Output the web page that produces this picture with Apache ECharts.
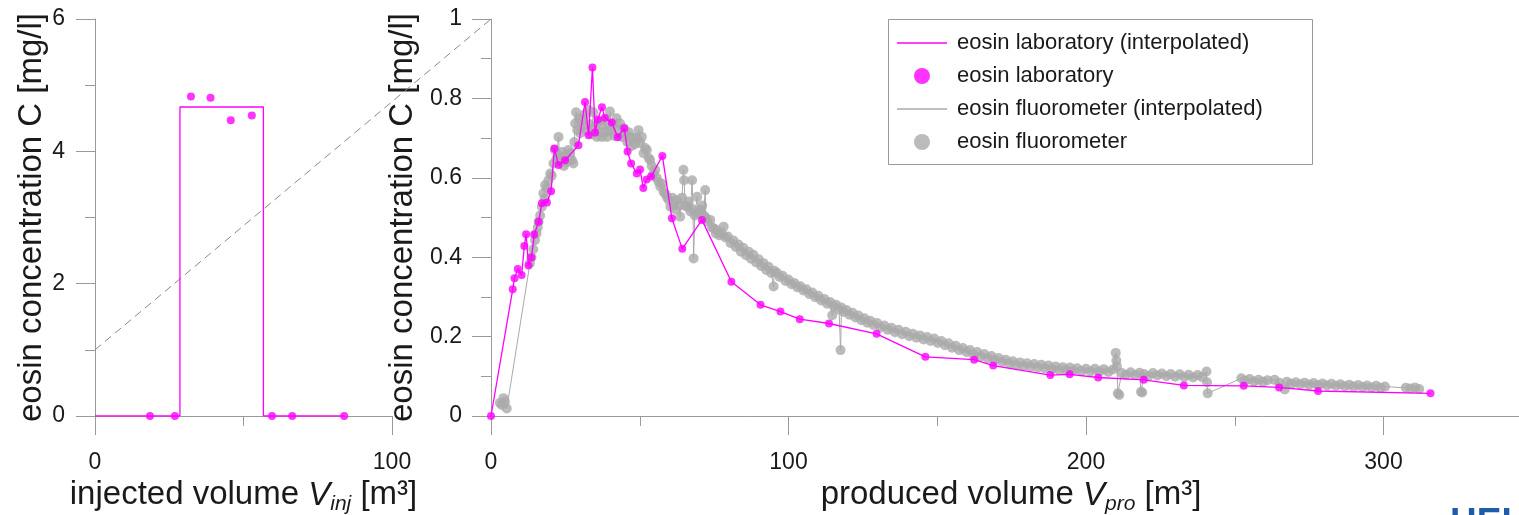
<!DOCTYPE html>
<html>
<head>
<meta charset="utf-8">
<script src="https://cdn.jsdelivr.net/npm/echarts@6/dist/echarts.min.js"></script>
<style>html,body{margin:0;padding:0;background:#fff;}#c{width:1519px;height:515px;}</style>
</head>
<body>
<div id="c"></div>
<script>
// ---------- data ----------
// left panel: injection
const injStepV = [0, 28.6, 28.6, 56.7, 56.7, 84];
const injStepC = [0, 0, 4.67, 4.67, 0, 0];
const injLabV = [18.5, 26.9, 32.3, 38.9, 45.7, 52.8, 59.6, 66.4, 83.9];
const injLabC = [0, 0, 4.83, 4.81, 4.47, 4.54, 0, 0, 0];
// decorative connector (left-panel coordinates, from C=1 at V=0 to top of right axis)
const connectorV = [0, 133.3];
const connectorC = [1, 6];

// right panel: laboratory samples
const labV = [0, 7.3, 7.9, 9.0, 10.3, 11.2, 11.8, 12.6, 13.6, 14.5, 16.0, 17.1, 18.8, 20.2, 21.3, 22.7, 24.9, 29.4, 31.6, 32.8, 34.1, 35.0, 35.9, 37.3, 38.3, 40.6, 42.6, 44.8, 45.9, 47.1, 49.0, 50.1, 51.2, 52.3, 53.8, 57.6, 60.8, 64.3, 70.9, 80.8, 90.6, 97.3, 103.8, 113.6, 129.6, 146.0, 162.4, 168.8, 188.0, 194.5, 204.1, 219.4, 232.9, 253.0, 264.9, 278.0, 315.8];
const labC = [0, 0.319, 0.347, 0.370, 0.355, 0.428, 0.458, 0.379, 0.399, 0.457, 0.489, 0.536, 0.538, 0.566, 0.674, 0.632, 0.644, 0.682, 0.791, 0.707, 0.878, 0.714, 0.747, 0.778, 0.751, 0.739, 0.702, 0.725, 0.666, 0.636, 0.611, 0.621, 0.574, 0.596, 0.603, 0.655, 0.498, 0.421, 0.494, 0.338, 0.280, 0.263, 0.244, 0.233, 0.207, 0.149, 0.142, 0.127, 0.103, 0.105, 0.097, 0.091, 0.077, 0.076, 0.072, 0.063, 0.057];

// right panel: fluorometer readings
const fluoV = [3.0, 3.6, 4.2, 4.7, 5.3,
 13.1, 13.6, 14.2, 14.8, 15.3, 15.7, 16.0, 16.5, 17.1, 17.6, 18.0, 18.2, 18.8, 19.3, 19.9, 20.4, 21.0, 21.5, 22.0, 22.7, 23.0,
 23.5, 24.0, 24.5, 25.0, 25.5, 26.0, 26.6, 27.2, 27.7, 28.0,
 28.3, 28.6, 29.0, 29.5, 30.0, 30.5, 31.0, 31.5, 32.0, 32.8, 33.3, 33.8, 34.4, 35.0, 35.6, 36.2, 36.8, 37.3, 37.8, 38.4, 39.0, 39.5, 40.0, 40.5, 41.0, 41.6, 42.2, 42.8, 43.4, 44.0, 44.6, 45.2, 45.8, 46.3, 46.8, 47.3, 47.8, 48.4, 49.0, 49.6, 50.2, 50.7, 51.3, 51.8, 52.4, 53.0, 53.5, 54.0, 54.6, 55.2, 55.7, 56.3, 56.9, 57.5, 58.0, 58.6, 59.1, 59.7, 60.3, 60.9, 61.5, 62.0, 62.5, 63.1, 63.6, 64.2, 64.7, 64.9, 65.3, 65.9, 66.4, 67.0, 67.6, 67.9, 68.1, 68.5, 69.3, 69.8, 70.4, 71.0, 71.5, 72.0, 72.2, 72.8, 73.7, 74.3, 75.0, 75.6, 76.0, 76.8, 77.5, 78.2, 78.8, 79.6, 80.5, 81.5, 82.3, 83.2, 84.0, 84.8, 85.7, 86.6, 87.4, 88.2, 89.1, 90.0, 90.8, 91.6, 92.5, 93.3, 94.2, 95.0, 95.2,
 96.1, 97.0, 98.0, 99.0, 100.0, 101.0, 102.0, 103.0, 104.0, 105.0, 106.0, 107.0, 108.0, 109.0, 110.0, 111.0, 112.0, 113.0, 114.0, 114.7, 115.3, 116.0, 117.0, 117.5, 117.8, 118.6, 119.5, 120.5, 121.5, 122.5, 123.5, 124.5, 125.5, 126.5, 127.5, 128.6, 129.8, 131.0, 132.2, 133.4, 134.6, 135.8, 137.0, 138.2, 139.4, 140.6, 141.8, 143.0, 144.2, 145.4, 146.6, 147.8, 149.0, 150.2, 151.4, 152.6, 153.8, 155.0, 156.2, 157.4, 158.6, 159.8, 161.0, 162.2, 163.4, 164.6, 165.8, 167.0, 168.2, 169.4, 170.6, 171.8, 173.0, 174.2, 175.4, 176.6, 177.8, 179.0, 180.2, 181.4, 182.6, 183.8, 185.0, 186.2, 187.4, 188.6, 189.8, 191.0, 192.2, 193.4, 194.6, 195.8, 197.0, 198.5, 200.0, 201.5, 203.0, 204.5, 206.0, 207.5, 209.0,
 210.0, 210.2, 210.4, 210.7, 211.2, 212.0, 213.5, 215.0, 216.5, 218.0, 218.5, 218.9, 219.5, 221.0, 222.5, 224.0, 225.5, 227.0, 228.5, 230.0, 231.5, 233.0, 234.5, 236.0, 237.5, 239.0, 240.5, 240.7, 240.9,
 252.2, 253.5, 255.0, 256.5, 258.0, 259.5, 261.0, 263.4, 265.0, 266.8, 267.5, 269.0, 270.5, 272.0, 273.5, 275.0, 276.5, 278.0, 279.5, 281.0, 282.5, 284.0, 285.5, 287.0, 288.5, 290.0, 291.5, 293.0, 294.5, 296.0, 297.5, 299.0, 300.5,
 307.5, 309.0, 310.6, 312.0];
const fluoC = [0.033, 0.028, 0.045, 0.036, 0.019,
 0.385, 0.400, 0.420, 0.443, 0.460, 0.475, 0.489, 0.505, 0.527, 0.561, 0.548, 0.582, 0.575, 0.594, 0.611, 0.605, 0.636, 0.670, 0.648, 0.703, 0.655,
 0.640, 0.665, 0.630, 0.655, 0.640, 0.670, 0.662, 0.645, 0.636, 0.690,
 0.737, 0.765, 0.720, 0.750, 0.712, 0.745, 0.730, 0.760, 0.720, 0.771, 0.735, 0.710, 0.765, 0.730, 0.703, 0.740, 0.715, 0.703, 0.729, 0.745, 0.703, 0.720, 0.767, 0.716, 0.735, 0.705, 0.750, 0.720, 0.737, 0.703, 0.725, 0.710, 0.690, 0.715, 0.703, 0.680, 0.700, 0.685, 0.700, 0.720, 0.687, 0.703, 0.662, 0.675, 0.670, 0.650, 0.645, 0.630, 0.611, 0.620, 0.600, 0.590, 0.578, 0.585, 0.565, 0.560, 0.552, 0.545, 0.527, 0.550, 0.535, 0.520, 0.544, 0.530, 0.502, 0.550, 0.620, 0.594, 0.530, 0.527, 0.540, 0.515, 0.594, 0.520, 0.397, 0.505, 0.552, 0.510, 0.519, 0.530, 0.505, 0.569, 0.500, 0.490, 0.494, 0.475, 0.472, 0.460, 0.468, 0.455, 0.460, 0.477, 0.450, 0.452, 0.436, 0.442, 0.426, 0.432, 0.414, 0.424, 0.405, 0.414, 0.396, 0.406, 0.387, 0.395, 0.378, 0.385, 0.368, 0.376, 0.360, 0.326, 0.366,
 0.361, 0.350, 0.353, 0.340, 0.344, 0.332, 0.335, 0.324, 0.327, 0.316, 0.319, 0.307, 0.311, 0.299, 0.303, 0.291, 0.295, 0.283, 0.287, 0.254, 0.276, 0.280, 0.268, 0.166, 0.273, 0.262, 0.267, 0.255, 0.260, 0.248, 0.253, 0.241, 0.246, 0.235, 0.240, 0.229, 0.234, 0.223, 0.228, 0.217, 0.222, 0.211, 0.217, 0.206, 0.212, 0.201, 0.207, 0.197, 0.203, 0.193, 0.199, 0.189, 0.195, 0.184, 0.189, 0.178, 0.183, 0.172, 0.177, 0.166, 0.171, 0.161, 0.166, 0.155, 0.161, 0.150, 0.156, 0.145, 0.151, 0.141, 0.146, 0.136, 0.142, 0.132, 0.138, 0.128, 0.135, 0.126, 0.133, 0.124, 0.131, 0.122, 0.129, 0.120, 0.127, 0.118, 0.125, 0.116, 0.123, 0.115, 0.122, 0.114, 0.120, 0.113, 0.119, 0.112, 0.119, 0.112, 0.118, 0.111, 0.117,
 0.159, 0.140, 0.125, 0.057, 0.053, 0.108, 0.104, 0.110, 0.103, 0.109, 0.061, 0.059, 0.106, 0.101, 0.108, 0.102, 0.107, 0.100, 0.106, 0.099, 0.105, 0.098, 0.104, 0.097, 0.103, 0.098, 0.112, 0.085, 0.057,
 0.095, 0.089, 0.093, 0.087, 0.091, 0.086, 0.090, 0.091, 0.084, 0.067, 0.086, 0.081, 0.085, 0.080, 0.084, 0.079, 0.083, 0.078, 0.082, 0.077, 0.081, 0.076, 0.080, 0.075, 0.079, 0.074, 0.078, 0.073, 0.077, 0.072, 0.076, 0.071, 0.074,
 0.071, 0.069, 0.072, 0.068];

// axis ticks
const injTicks = {xMin: 0, xMax: 100, xStep: 100, yMin: 0, yMax: 6, yStep: 2};
const proTicks = {xMin: 0, xMax: 400, xStep: 100, yMin: 0, yMax: 1, yStep: 0.2};
const legendNames = ['eosin laboratory (interpolated)', 'eosin laboratory', 'eosin fluorometer (interpolated)', 'eosin fluorometer'];

// ---------- chart ----------
const FONT = '"Liberation Sans", Arial, Helvetica, sans-serif';
const AX = '#9a9a9a';
const TXT = '#1a1a1a';
const MAG = '#ff00ff';
const GRY = '#aaaaaa';
const zip = (a, b) => a.map((v, i) => [v, b[i]]);
const LINE_ICON = 'path://M0,0L50,0L50,1.5L0,1.5Z';

const axisCommon = {
  axisLine: {show: true, onZero: false, lineStyle: {color: AX, width: 1}},
  axisTick: {show: true, inside: false, length: 19, lineStyle: {color: AX, width: 1}},
  minorTick: {show: true, splitNumber: 2, length: 10, lineStyle: {color: AX, width: 1}},
  splitLine: {show: false},
  minorSplitLine: {show: false}
};
const labelStyle = {fontSize: 23, color: TXT, fontFamily: FONT};
const nameRich = {
  a: {fontSize: 33, fontFamily: FONT, color: TXT, lineHeight: 38},
  v: {fontSize: 33, fontFamily: FONT, color: TXT, fontStyle: 'italic', lineHeight: 38},
  s: {fontSize: 21, fontFamily: FONT, color: TXT, fontStyle: 'italic', lineHeight: 22, verticalAlign: 'bottom'}
};
const hidden = {show: false};

const chart = echarts.init(document.getElementById('c'), null, {renderer: 'canvas', width: 1519, height: 515});
chart.setOption({
  backgroundColor: '#ffffff',
  animation: false,
  grid: [
    {left: 95, top: 19, width: 297, height: 397, outerBoundsMode: 'none', containLabel: false},
    {left: 491, top: 19, width: 1190, height: 397, outerBoundsMode: 'none', containLabel: false},
    {left: 95, top: 19, width: 396, height: 397, outerBoundsMode: 'none', containLabel: false}
  ],
  xAxis: [
    Object.assign({}, axisCommon, {
      gridIndex: 0, type: 'value', min: injTicks.xMin, max: injTicks.xMax, interval: injTicks.xStep,
      axisLabel: Object.assign({margin: 35}, labelStyle),
      name: '{a|injected volume }{v|V}{s|inj}{a| [m³]}', nameLocation: 'middle', nameGap: 48,
      nameTextStyle: {rich: nameRich}
    }),
    Object.assign({}, axisCommon, {
      gridIndex: 1, type: 'value', min: proTicks.xMin, max: proTicks.xMax, interval: proTicks.xStep,
      axisLabel: Object.assign({margin: 35, showMaxLabel: false}, labelStyle),
      name: '{a|produced volume }{v|V}{s|pro}{a| [m³]}', nameLocation: 'middle', nameGap: 48,
      nameTextStyle: {rich: nameRich, padding: [0, 150, 0, 0]}
    }),
    {gridIndex: 2, type: 'value', min: 0, max: 133.3, show: false, axisLine: hidden, axisTick: hidden, axisLabel: hidden, splitLine: hidden}
  ],
  yAxis: [
    Object.assign({}, axisCommon, {
      gridIndex: 0, type: 'value', min: injTicks.yMin, max: injTicks.yMax, interval: injTicks.yStep,
      axisLabel: Object.assign({margin: 30}, labelStyle),
      name: 'eosin concentration C [mg/l]', nameLocation: 'middle', nameGap: 41, nameRotate: 90,
      nameTextStyle: {fontSize: 33, fontFamily: FONT, color: TXT}
    }),
    Object.assign({}, axisCommon, {
      gridIndex: 1, type: 'value', min: proTicks.yMin, max: proTicks.yMax, interval: proTicks.yStep,
      axisLabel: Object.assign({margin: 29}, labelStyle),
      name: 'eosin concentration C [mg/l]', nameLocation: 'middle', nameGap: 59, nameRotate: 90,
      nameTextStyle: {fontSize: 33, fontFamily: FONT, color: TXT}
    }),
    {gridIndex: 2, type: 'value', min: 0, max: 6, show: false, axisLine: hidden, axisTick: hidden, axisLabel: hidden, splitLine: hidden}
  ],
  legend: {
    orient: 'vertical', left: 888, top: 19,
    padding: [13, 10, 12, 9], itemGap: 11, itemWidth: 50, itemHeight: 16,
    textStyle: {fontSize: 22, lineHeight: 22, color: TXT, fontFamily: FONT, padding: [0, 0, 0, 5]},
    data: [
      {name: legendNames[0], icon: LINE_ICON, itemStyle: {color: MAG}},
      {name: legendNames[1], icon: 'circle', itemStyle: {color: MAG}},
      {name: legendNames[2], icon: LINE_ICON, itemStyle: {color: GRY}},
      {name: legendNames[3], icon: 'circle', itemStyle: {color: GRY}}
    ],
    selectedMode: false
  },
  graphic: [
    {type: 'rect', left: 888, top: 19, z: 0, silent: true,
     shape: {width: 424, height: 145}, style: {fill: '#ffffff', stroke: '#999999', lineWidth: 1}},
    {type: 'text', left: 1450, top: 505, z: 10, silent: true,
     style: {text: 'HEI', fill: '#1f5ca8', font: 'bold 37px ' + FONT}}
  ],
  series: [
    {name: 'connector', type: 'line', xAxisIndex: 2, yAxisIndex: 2, data: zip(connectorV, connectorC),
     symbol: 'none', silent: true, z: 1, color: '#8a8a8a',
     lineStyle: {color: '#8a8a8a', width: 1, type: [8, 5]}},
    {name: 'injection (interpolated)', type: 'line', xAxisIndex: 0, yAxisIndex: 0, data: zip(injStepV, injStepC),
     symbol: 'none', color: MAG, lineStyle: {color: MAG, width: 1.3}, z: 3},
    {name: 'injection', type: 'scatter', xAxisIndex: 0, yAxisIndex: 0, data: zip(injLabV, injLabC),
     symbol: 'circle', symbolSize: 8, color: MAG, itemStyle: {color: MAG}, z: 4},
    {name: legendNames[2], type: 'line', xAxisIndex: 1, yAxisIndex: 1, data: zip(fluoV, fluoC),
     symbol: 'none', color: GRY, lineStyle: {color: GRY, width: 1}, z: 2},
    {name: legendNames[3], type: 'scatter', xAxisIndex: 1, yAxisIndex: 1, data: zip(fluoV, fluoC),
     symbol: 'circle', symbolSize: 10, color: GRY, itemStyle: {color: GRY}, z: 2},
    {name: legendNames[0], type: 'line', xAxisIndex: 1, yAxisIndex: 1, data: zip(labV, labC),
     symbol: 'none', color: MAG, lineStyle: {color: MAG, width: 1.3}, z: 3},
    {name: legendNames[1], type: 'scatter', xAxisIndex: 1, yAxisIndex: 1, data: zip(labV, labC),
     symbol: 'circle', symbolSize: 8, color: MAG, itemStyle: {color: MAG}, z: 4}
  ]
});
</script>
</body>
</html>
